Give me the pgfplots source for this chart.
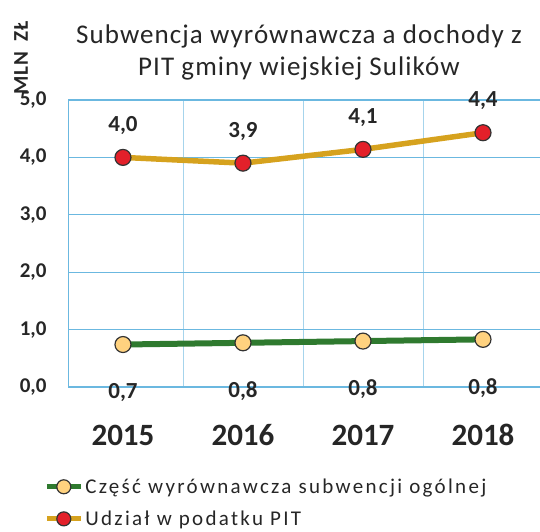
\documentclass[border=0pt]{standalone}
\usepackage{fontspec}
\setmainfont{Carlito}
\usepackage{pgfplots}
\pgfplotsset{compat=1.18}
\definecolor{gridblue}{HTML}{6BB8E0}
\definecolor{lgreen}{HTML}{2F7A2F}
\definecolor{mkyellow}{HTML}{FFD27F}
\definecolor{lgold}{HTML}{D6A21E}
\definecolor{mkred}{HTML}{E3202A}
\definecolor{txt}{HTML}{262626}
\begin{document}
\begin{tikzpicture}
\useasboundingbox (0,0) rectangle (540pt,531pt);
\node[align=center, text=txt, font=\fontsize{27}{32}\selectfont\addfontfeature{LetterSpace=4}] at (299pt,479pt)
  {Subwencja wyrównawcza a dochody z\\PIT gminy wiejskiej Sulików};
\node[rotate=90, text=txt, font=\bfseries\fontsize{21}{21}\selectfont\addfontfeature{LetterSpace=4}] at (21pt,473pt) {MLN\hspace{0.5em}ZŁ};
\begin{axis}[
  at={(68pt,144pt)}, anchor=south west,
  scale only axis, width=472pt, height=287pt,
  xmin=-0.458, xmax=3.475, ymin=0, ymax=5,
  xtick={0,1,2,3}, xticklabels={2015,2016,2017,2018},
  minor xtick={0.5,1.5,2.5},
  ytick={0,1,2,3,4,5},
  xminorgrids=true, ymajorgrids=true, xmajorgrids=false,
  major tick length=0pt, minor tick length=0pt,
  axis line style={gridblue, line width=0.8pt},
  minor grid style={gridblue!60, line width=0.6pt},
  major grid style={gridblue, line width=1.1pt},
  /pgf/number format/.cd, use comma, fixed, fixed zerofill, precision=1, assume math mode=true,
  /pgfplots/.cd,
  yticklabel style={font=\bfseries\fontsize{21}{21}\selectfont, text=txt, xshift=-18pt},
  xticklabel style={font=\bfseries\fontsize{31}{31}\selectfont, text=txt, yshift=-34pt, text height=21pt, text depth=0pt},
  clip=false,
  legend cell align=left,
  legend image code/.code={\draw[#1, line width=5pt, mark repeat=2, mark phase=2, mark size=7pt] plot coordinates {(0pt,0pt) (17pt,0pt) (34pt,0pt)};},
  legend style={at={(axis description cs:-0.057,-0.305)}, anchor=north west, draw=none, fill=none,
    font=\fontsize{21}{21}\selectfont\addfontfeature{LetterSpace=11}, text=txt, row sep=12pt},
]
\addplot[lgreen, line width=6pt, mark=*, mark size=8pt,
  mark options={fill=mkyellow, draw=black!80, line width=1.2pt},
  nodes near coords={\textbf{\pgfmathprintnumber[assume math mode=true]{\pgfplotspointmeta}}},
  every node near coord/.append style={anchor=north, yshift=-35pt, font=\bfseries\fontsize{23}{23}\selectfont, text=txt}]
  coordinates {(0,0.74) (1,0.77) (2,0.80) (3,0.83)};
\addlegendentry{Część wyrównawcza subwencji ogólnej}
\addplot[lgold, line width=5.5pt, mark=*, mark size=8pt,
  mark options={fill=mkred, draw=black!80, line width=1.2pt},
  nodes near coords={\textbf{\pgfmathprintnumber[assume math mode=true]{\pgfplotspointmeta}}},
  every node near coord/.append style={anchor=south, yshift=19pt, font=\bfseries\fontsize{23}{23}\selectfont, text=txt}]
  coordinates {(0,4.00) (1,3.90) (2,4.14) (3,4.43)};
\addlegendentry{Udział w podatku PIT}
\end{axis}
\end{tikzpicture}
\end{document}
